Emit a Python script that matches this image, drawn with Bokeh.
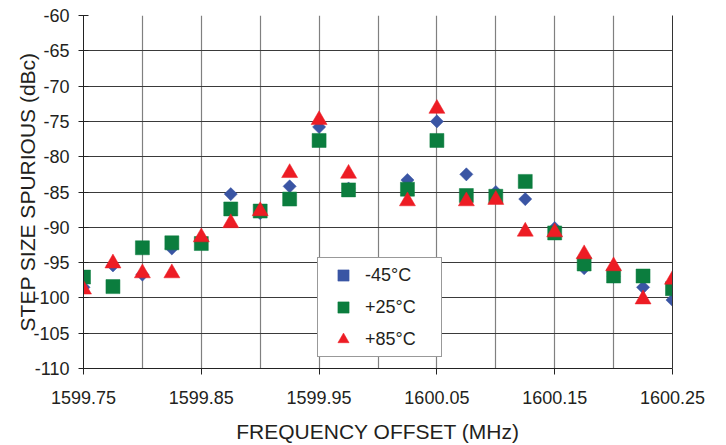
from bokeh.plotting import figure
from bokeh.models import FixedTicker, NumeralTickFormatter, PrintfTickFormatter, Legend, LegendItem, LinearAxis, Range1d
from bokeh.embed import file_html
from bokeh.resources import INLINE

freq = [1599.75, 1599.775, 1599.80, 1599.825, 1599.85, 1599.875, 1599.90, 1599.925,
        1599.95, 1599.975, 1600.025, 1600.05, 1600.075, 1600.10, 1600.125, 1600.15,
        1600.175, 1600.20, 1600.225, 1600.25]
m45 = [-98.5, -95.4, -96.7, -93.0, -92.2, -85.3, -88.0, -84.2, -75.8, -84.5,
       -83.3, -75.0, -82.5, -85.0, -86.0, -90.1, -95.8, -97.0, -98.5, -100.3]
p25 = [-97.05, -98.4, -92.9, -92.2, -92.3, -87.4, -87.7, -86.0, -77.7, -84.7,
       -84.6, -77.7, -85.5, -85.6, -83.5, -90.8, -95.2, -96.9, -96.9, -98.7]
p85 = [-98.8, -95.1, -96.5, -96.5, -91.4, -89.4, -87.7, -82.3, -74.8, -82.4,
       -86.3, -73.2, -86.3, -86.1, -90.6, -90.7, -93.8, -95.5, -100.2, -97.4]

x_label_ticks = [1599.75, 1599.85, 1599.95, 1600.05, 1600.15, 1600.25]
x_grid_ticks = [1599.75, 1599.80, 1599.85, 1599.90, 1599.95, 1600.00,
                1600.05, 1600.10, 1600.15, 1600.20, 1600.25]
y_ticks = [-110, -105, -100, -95, -90, -85, -80, -75, -70, -65, -60]
labels = ["-45°C", "+25°C", "+85°C"]

FONT = "Liberation Sans"
TXT = "#231f20"

p = figure(width=726, height=445, output_backend="svg", toolbar_location=None,
           x_range=Range1d(1599.75, 1600.25), y_range=Range1d(-110, -60),
           min_border_left=83, min_border_right=54, min_border_top=15, min_border_bottom=76)
p.outline_line_color = None
p.background_fill_color = "white"
p.border_fill_color = "white"

# grids
p.xgrid.ticker = FixedTicker(ticks=x_grid_ticks)
p.ygrid.ticker = FixedTicker(ticks=y_ticks)
p.xgrid.grid_line_color = "#808080"
p.ygrid.grid_line_color = "#3a3a3a"
p.xgrid.grid_line_width = 1.2
p.ygrid.grid_line_width = 1.2

# x axis
xa = p.xaxis[0]
xa.ticker = FixedTicker(ticks=x_label_ticks)
xa.formatter = NumeralTickFormatter(format="0.00")
xa.axis_label = "FREQUENCY OFFSET (MHz)"
xa.major_tick_in = 0
xa.major_tick_out = 6
xa.minor_tick_line_color = None
xa.axis_line_color = "#222222"
xa.major_tick_line_color = "#222222"
xa.major_label_text_font = FONT
xa.major_label_text_font_size = "18px"
xa.major_label_text_color = TXT
xa.major_label_standoff = 16
xa.axis_label_text_font = FONT
xa.axis_label_text_font_size = "21px"
xa.axis_label_text_font_style = "normal"
xa.axis_label_text_color = TXT
xa.axis_label_standoff = 13

# y axis
ya = p.yaxis[0]
ya.ticker = FixedTicker(ticks=y_ticks)
ya.formatter = PrintfTickFormatter(format="%d")
ya.axis_label = "STEP SIZE SPURIOUS (dBc)"
ya.major_tick_in = 5
ya.major_tick_out = 5
ya.minor_tick_line_color = None
ya.axis_line_color = "#222222"
ya.major_tick_line_color = "#222222"
ya.major_label_text_font = FONT
ya.major_label_text_font_size = "18px"
ya.major_label_text_color = TXT
ya.major_label_standoff = 9
ya.axis_label_text_font = FONT
ya.axis_label_text_font_size = "21px"
ya.axis_label_text_font_style = "normal"
ya.axis_label_text_color = TXT
ya.axis_label_standoff = -9

# right frame edge
ra = LinearAxis(ticker=FixedTicker(ticks=[]), major_label_text_font_size="0px",
                axis_line_color="#333333", major_tick_line_color=None, minor_tick_line_color=None)
p.add_layout(ra, "right")

r1 = p.scatter(freq, m45, marker="square", angle=0.785398, size=9.3,
               fill_color="#3a55a4", line_color="#3a55a4", line_width=0.5)
r2 = p.scatter(freq, p25, marker="square", size=14,
               fill_color="#0b7d3e", line_color="#0b7d3e", line_width=0.5)
r3 = p.scatter(freq, p85, marker="triangle", size=16,
               fill_color="#ed1c24", line_color="#ed1c24", line_width=0.5)

legend = Legend(items=[LegendItem(label=labels[0], renderers=[r1]),
                       LegendItem(label=labels[1], renderers=[r2]),
                       LegendItem(label=labels[2], renderers=[r3])],
                location=(234, 11), orientation="vertical",
                padding=3, spacing=4, glyph_width=44, glyph_height=28,
                label_height=28, label_standoff=0, label_width=73,
                label_text_font=FONT, label_text_font_size="18px", label_text_color=TXT,
                border_line_color="#333333", border_line_width=1,
                background_fill_color="white", background_fill_alpha=1.0,
                margin=0)
p.add_layout(legend, "center")

open("out.html", "w").write(file_html(p, INLINE))
